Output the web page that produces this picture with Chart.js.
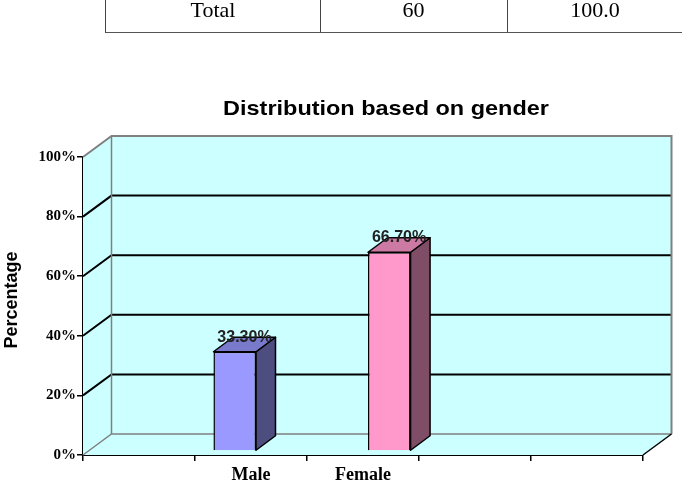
<!DOCTYPE html>
<html>
<head>
<meta charset="utf-8">
<script src="https://cdn.jsdelivr.net/npm/chart.js@4"></script>
<style>
  html, body { margin: 0; padding: 0; background: #fff; }
  #wrap { position: relative; width: 682px; height: 486px; overflow: hidden; }
  canvas { position: absolute; left: 0; top: 0; }
  #tbl { position: absolute; left: 105px; top: -2px; width: 600px; height: 34px;
         border-left: 1px solid #444; border-bottom: 1.5px solid #555; }
  .cell { position: absolute; top: 0; height: 34px; text-align: center; color: #000;
          font-family: "Liberation Serif", "Times New Roman", serif; font-size: 22px; line-height: 23px; }
  #title { position: absolute; left: 0; top: 96px; width: 772px; text-align: center; color: #000;
           font: bold 21px/24px "Liberation Sans", Arial, sans-serif; white-space: nowrap;
           transform: scaleX(1.117); transform-origin: 386px 0; }
  #ytitle { position: absolute; left: -49.5px; top: 290px; width: 120px; height: 20px; text-align: center; color: #000;
            font: bold 18px/20px "Liberation Sans", Arial, sans-serif; white-space: nowrap;
            transform: rotate(-90deg); }
</style>
</head>
<body>
<div id="wrap">
  <canvas id="chart" width="682" height="486"></canvas>
  <div id="tbl"></div>
  <div id="title"></div>
  <div id="ytitle"></div>
</div>
<script>
// table row shown above the chart
const tableRow = ['Total', '60', '100.0'];
const tableCols = [214, 187, 176]; // column widths

// chart text
const chartTitle = 'Distribution based on gender';
const yTitle = 'Percentage';

// chart data
const categories = ['', 'Male', 'Female', '', ''];
const maleValues = [null, 33.3, null, null, null];
const femaleValues = [null, null, 66.7, null, null];
const yTicks = [0, 20, 40, 60, 80, 100];

document.getElementById('title').textContent = chartTitle;
document.getElementById('ytitle').textContent = yTitle;

// build the table strip
const tbl = document.getElementById('tbl');
let left = 0;
tableRow.forEach((txt, i) => {
    const d = document.createElement('div');
    d.className = 'cell';
    d.style.left = left + 'px';
    d.style.width = tableCols[i] + 'px';
    if (i < 2) d.style.borderRight = '1px solid #444';
    d.textContent = txt;
    tbl.appendChild(d);
    left += tableCols[i];
});

// 3d look: depth of the walls, depth of the bars, how far bars sit behind the front plane
const DX = 28.5, DY = -21;
const BX = 19.5, BY = -14.5;
const SX = 5, SY = -4;

function poly(ctx, pts, fill, stroke, lw) {
    ctx.beginPath();
    ctx.moveTo(pts[0][0], pts[0][1]);
    for (let i = 1; i < pts.length; i++) ctx.lineTo(pts[i][0], pts[i][1]);
    ctx.closePath();
    if (fill) { ctx.fillStyle = fill; ctx.fill(); }
    if (stroke) { ctx.strokeStyle = stroke; ctx.lineWidth = lw || 1; ctx.stroke(); }
}

function line(ctx, pts, color, lw) {
    ctx.beginPath();
    ctx.moveTo(pts[0][0], pts[0][1]);
    for (let i = 1; i < pts.length; i++) ctx.lineTo(pts[i][0], pts[i][1]);
    ctx.strokeStyle = color;
    ctx.lineWidth = lw;
    ctx.stroke();
}

const box3d = {
    id: 'box3d',
    beforeDatasetsDraw(chart) {
        const { ctx, chartArea: a, scales: { y } } = chart;
        const wall = '#CCFFFF', edge = '#808080';
        ctx.save();
        // side wall, back wall, floor
        poly(ctx, [[a.left, a.top], [a.left + DX, a.top + DY], [a.left + DX, a.bottom + DY], [a.left, a.bottom]], wall);
        poly(ctx, [[a.left + DX, a.top + DY], [a.right + DX, a.top + DY], [a.right + DX, a.bottom + DY], [a.left + DX, a.bottom + DY]], wall);
        poly(ctx, [[a.left, a.bottom], [a.left + DX, a.bottom + DY], [a.right + DX, a.bottom + DY], [a.right, a.bottom]], wall);
        // gridlines
        yTicks.forEach(v => {
            if (v === 0 || v === 100) return;
            const yy = y.getPixelForValue(v);
            line(ctx, [[a.left, yy], [a.left + DX, yy + DY], [a.right + DX, yy + DY]], '#000', 2);
        });
        // wall edges
        line(ctx, [[a.left, a.top], [a.left + DX, a.top + DY], [a.right + DX, a.top + DY], [a.right + DX, a.bottom + DY]], edge, 2);
        line(ctx, [[a.left + DX, a.top + DY], [a.left + DX, a.bottom + DY]], edge, 1.5);
        line(ctx, [[a.left, a.bottom], [a.left + DX, a.bottom + DY], [a.right + DX, a.bottom + DY]], edge, 1.5);
        line(ctx, [[a.right, a.bottom], [a.right + DX, a.bottom + DY]], '#000', 1.5);
        ctx.restore();
        // bars sit a bit behind the front plane
        ctx.save();
        ctx.translate(SX, SY);
    },
    afterDatasetsDraw(chart) {
        const ctx = chart.ctx;
        const tops = [];
        chart.data.datasets.forEach((ds, i) => {
            chart.getDatasetMeta(i).data.forEach((bar, j) => {
                if (ds.data[j] == null) return;
                const { x, y, base, width } = bar.getProps(['x', 'y', 'base', 'width'], true);
                const l = x - width / 2, r = x + width / 2;
                ctx.lineJoin = 'round';
                poly(ctx, [[r, y], [r + BX, y + BY], [r + BX, base + BY], [r, base]], ds.sideColor, '#000', 1.5);
                poly(ctx, [[l, y], [l + BX, y + BY], [r + BX, y + BY], [r, y]], ds.topColor, '#000', 1.5);
                tops.push([x + SX + BX / 2, y + SY + BY, ds.data[j]]);
            });
        });
        ctx.restore();
        // value labels
        ctx.save();
        ctx.font = 'bold 16px "Liberation Sans", Arial, sans-serif';
        ctx.fillStyle = '#222';
        ctx.textAlign = 'center';
        ctx.textBaseline = 'middle';
        tops.forEach(t => ctx.fillText(t[2].toFixed(2) + '%', t[0], t[1]));
        ctx.restore();
    }
};

new Chart(document.getElementById('chart'), {
    type: 'bar',
    data: {
        labels: categories,
        datasets: [{
            label: 'Male',
            data: maleValues,
            backgroundColor: '#9999FF',
            sideColor: '#4D4D80',
            topColor: '#7A7ACC',
            borderColor: '#000',
            borderWidth: 1.5,
            categoryPercentage: 0.76,
            barPercentage: 1
        }, {
            label: 'Female',
            data: femaleValues,
            backgroundColor: '#FF99CC',
            sideColor: '#804D66',
            topColor: '#CC7AA3',
            borderColor: '#000',
            borderWidth: 1.5,
            categoryPercentage: 0.76,
            barPercentage: 1
        }]
    },
    options: {
        responsive: false,
        animation: false,
        layout: { padding: { left: 0, right: 39, top: 157, bottom: 0 } },
        plugins: {
            legend: { display: false },
            tooltip: { enabled: false },
            title: { display: false }
        },
        scales: {
            x: {
                grid: { display: true, drawOnChartArea: false, offset: true, tickLength: 6, color: '#000', lineWidth: 1.5 },
                border: { display: true, color: '#000', width: 2 },
                ticks: {
                    color: '#000',
                    font: { family: '"Liberation Serif", "Times New Roman", serif', size: 18, weight: 'bold' },
                    padding: 4,
                    maxRotation: 0,
                    autoSkip: false
                },
                afterFit: s => { s.height = 31; }
            },
            y: {
                min: 0,
                max: 100,
                grid: { drawOnChartArea: false, tickLength: 6, color: '#000', lineWidth: 1.5 },
                border: { display: true, color: '#000', width: 2 },
                ticks: {
                    stepSize: 20,
                    color: '#000',
                    padding: 1,
                    font: { family: '"Liberation Serif", "Times New Roman", serif', size: 15, weight: 'bold' },
                    callback: v => v + '%'
                },
                afterFit: s => { s.width = 83; }
            }
        }
    },
    plugins: [box3d]
});
</script>
</body>
</html>
